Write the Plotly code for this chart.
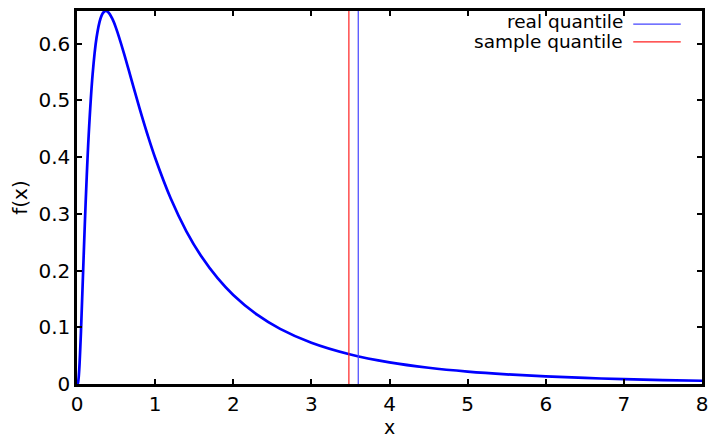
import plotly.graph_objects as go

# density curve values
x_vals = [0, 0.01, 0.02, 0.03, 0.05, 0.07, 0.1, 0.12, 0.15, 0.2, 0.25, 0.3, 0.34, 0.37, 0.4,
          0.45, 0.5, 0.6, 0.7, 0.8, 0.9, 1.0, 1.2, 1.4, 1.6, 1.8, 2.0, 2.3, 2.6, 3.0,
          3.5, 4.0, 4.5, 5.0, 5.5, 6.0, 6.5, 7.0, 7.5, 8.0]
f_vals = [0, 0.001, 0.0095, 0.0285, 0.0898, 0.166, 0.2816, 0.351, 0.440, 0.5463, 0.6104, 0.6441,
          0.6556, 0.6577, 0.6554, 0.6445, 0.6275, 0.5836, 0.5348, 0.4864, 0.4408, 0.3989,
          0.3270, 0.2693, 0.2233, 0.1865, 0.1569, 0.1226, 0.0972, 0.0727, 0.0520, 0.0381,
          0.0286, 0.02185, 0.01697, 0.01336, 0.01065, 0.00858, 0.00698, 0.00574]

real_quantile = 3.6
sample_quantile = 3.48
y_max = 0.6577

x_ticks = [0, 1, 2, 3, 4, 5, 6, 7, 8]
y_ticks = [0, 0.1, 0.2, 0.3, 0.4, 0.5, 0.6]

FONT = "DejaVu Sans, Arial, sans-serif"
FS = 20
FS_KEY = 18.5

fig = go.Figure()
fig.add_trace(go.Scatter(x=x_vals, y=f_vals, mode="lines", line=dict(color="#0000ff", width=2.7, shape="spline"),
                         showlegend=False, hoverinfo="skip"))
fig.add_trace(go.Scatter(x=[real_quantile, real_quantile], y=[0, y_max], mode="lines",
                         line=dict(color="#4444ff", width=1.2), name="real quantile", showlegend=False))
fig.add_trace(go.Scatter(x=[sample_quantile, sample_quantile], y=[0, y_max], mode="lines",
                         line=dict(color="#ff2020", width=1.2), name="sample quantile", showlegend=False))

# gnuplot-style key: text right-aligned, sample line on the right
fig.add_annotation(x=0.876, y=0.972, xref="paper", yref="paper", text="real quantile", showarrow=False,
                   xanchor="right", yanchor="middle", font=dict(family=FONT, size=FS_KEY, color="black"))
fig.add_annotation(x=0.876, y=0.918, xref="paper", yref="paper", text="sample quantile", showarrow=False,
                   xanchor="right", yanchor="middle", font=dict(family=FONT, size=FS_KEY, color="black"))
fig.add_shape(type="line", xref="paper", yref="paper", x0=0.890, x1=0.966, y0=0.965, y1=0.965,
              line=dict(color="#4444ff", width=1.2))
fig.add_shape(type="line", xref="paper", yref="paper", x0=0.890, x1=0.966, y0=0.917, y1=0.917,
              line=dict(color="#ff2020", width=1.2))

axis_common = dict(showline=True, linecolor="black", linewidth=2.5, mirror="ticks", ticks="inside",
                   ticklen=5, tickwidth=2, tickcolor="black", showgrid=False, zeroline=False,
                   automargin=False, tickfont=dict(family=FONT, size=FS, color="black"))
fig.update_xaxes(range=[0, 8], tickvals=x_ticks, ticktext=[str(v) for v in x_ticks],
                 title=dict(text="x", font=dict(family=FONT, size=19, color="black"), standoff=2),
                 **axis_common)
fig.update_yaxes(range=[0, y_max], tickvals=y_ticks, ticktext=["0", "0.1", "0.2", "0.3", "0.4", "0.5", "0.6"],
                 title=dict(text="f(x)", font=dict(family=FONT, size=FS, color="black"), standoff=14),
                 **axis_common)
# the page body adds an 8px offset, so the figure is sized to fit the window after it
fig.update_layout(width=712, height=430, margin=dict(l=69, r=18, t=3, b=54),
                  paper_bgcolor="white", plot_bgcolor="white", showlegend=False)
fig.write_html("out.html")
